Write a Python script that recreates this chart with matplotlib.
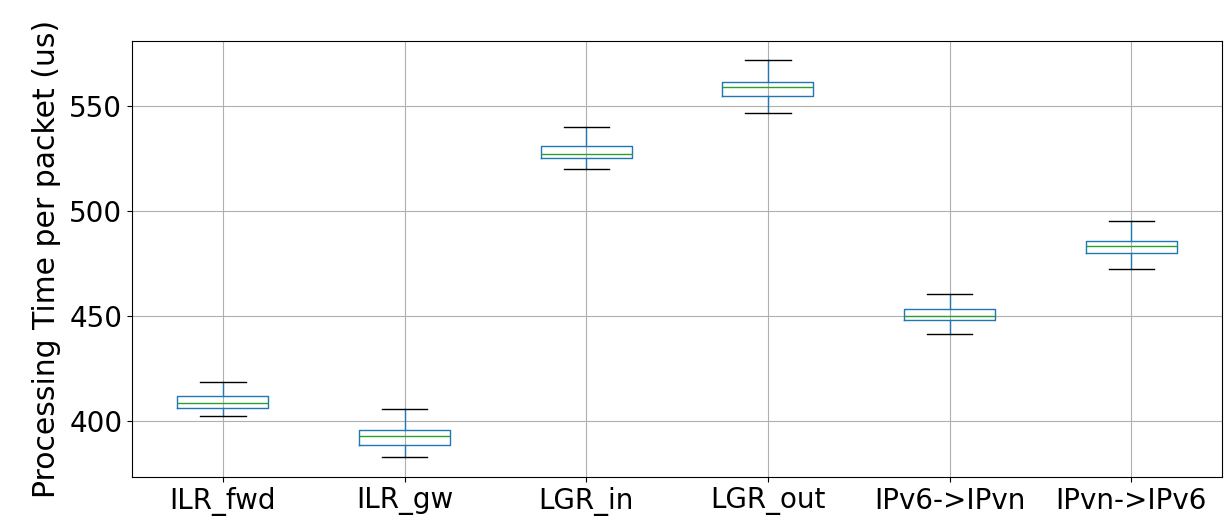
import matplotlib
matplotlib.use('Agg')
import matplotlib.pyplot as plt

# Box statistics (us)
labels = ['ILR_fwd', 'ILR_gw', 'LGR_in', 'LGR_out', 'IPv6->IPvn', 'IPvn->IPv6']
whislo = [402.4, 382.7, 520.0, 546.8, 441.4, 472.5]
q1 = [406.3, 388.6, 525.1, 554.9, 448.1, 479.8]
med = [408.4, 393.0, 527.1, 559.0, 450.2, 483.3]
q3 = [411.9, 395.6, 531.1, 561.4, 453.5, 485.9]
whishi = [418.4, 405.6, 540.0, 571.8, 460.3, 495.4]

stats = []
for i, name in enumerate(labels):
    stats.append({'label': name, 'whislo': whislo[i], 'q1': q1[i], 'med': med[i],
                  'q3': q3[i], 'whishi': whishi[i], 'fliers': []})

fig = plt.figure(figsize=(12.25, 5.25), dpi=100)
ax = fig.add_axes([0.1078, 0.0914, 0.8898, 0.8306])

ax.bxp(stats, widths=0.5, showfliers=False,
       boxprops=dict(color='#1f77b4'),
       whiskerprops=dict(color='#1f77b4'),
       capprops=dict(color='k'),
       medianprops=dict(color='#2ca02c'))

ax.set_xlim(0.5, 6.5)
ax.set_ylim(373.3, 581)
ax.grid(True, color='#b0b0b0', linewidth=0.8)
ax.set_axisbelow(True)
ax.tick_params(labelsize=20)
ax.set_ylabel('Processing Time per packet (us)', fontsize=21.5, labelpad=6)

fig.savefig('out.png', dpi=100)
